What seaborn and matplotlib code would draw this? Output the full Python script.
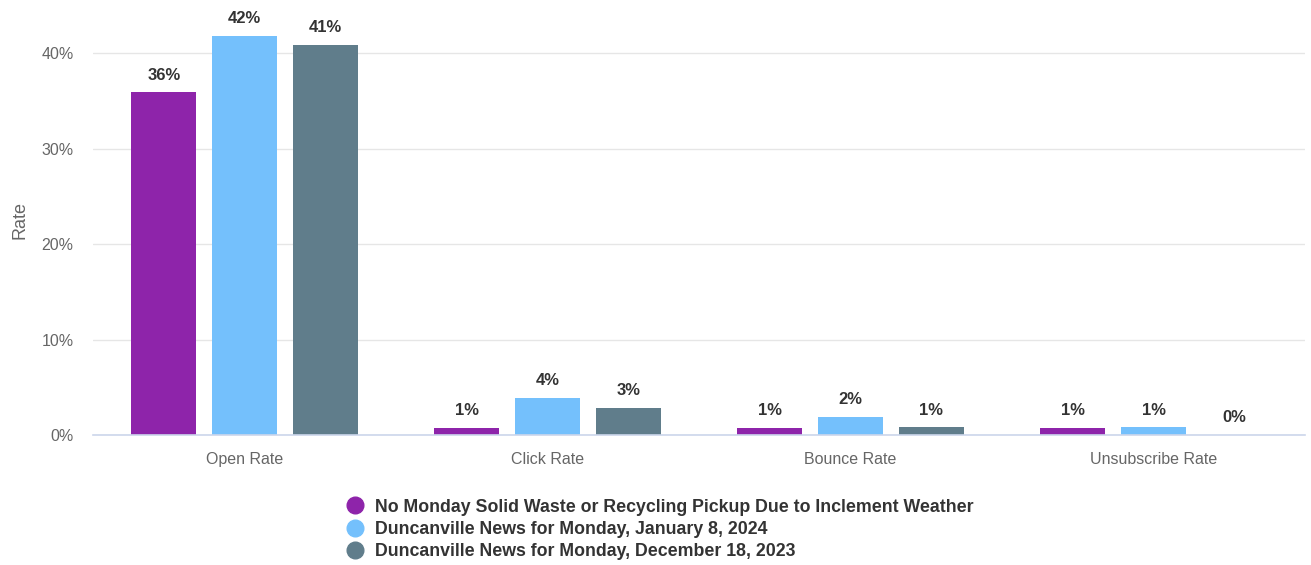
import matplotlib
matplotlib.use("Agg")
import matplotlib.pyplot as plt
from matplotlib.lines import Line2D
import seaborn as sns
import pandas as pd

categories = ["Open Rate", "Click Rate", "Bounce Rate", "Unsubscribe Rate"]
series_names = [
    "No Monday Solid Waste or Recycling Pickup Due to Inclement Weather",
    "Duncanville News for Monday, January 8, 2024",
    "Duncanville News for Monday, December 18, 2023",
]
s1 = [35.9, 0.75, 0.75, 0.75]
s2 = [41.8, 3.9, 1.9, 0.8]
s3 = [40.9, 2.85, 0.8, 0.0]
labels1 = ["36%", "1%", "1%", "1%"]
labels2 = ["42%", "4%", "2%", "1%"]
labels3 = ["41%", "3%", "1%", "0%"]
colors = ["#8E24AA", "#74C0FC", "#607D8B"]
yticks = [0, 10, 20, 30, 40]

rows = []
for name, vals in zip(series_names, [s1, s2, s3]):
    for c, v in zip(categories, vals):
        rows.append({"Category": c, "Series": name, "Rate": v})
df = pd.DataFrame(rows)

sns.set_theme(style="white")
plt.rcParams["font.family"] = ["Liberation Sans", "DejaVu Sans"]

fig = plt.figure(figsize=(13.11, 5.65), dpi=100)
ax = fig.add_axes([0.071, 0.23, 0.9245, 0.76])

sns.barplot(data=df, x="Category", y="Rate", hue="Series", order=categories,
            hue_order=series_names, palette=colors, width=0.8, gap=0.2,
            saturation=1, ax=ax, legend=False, linewidth=0, edgecolor="none")

ax.set_ylim(0, 45)
ax.set_xlim(-0.5, 3.5)
ax.set_yticks(yticks)
ax.set_yticklabels([f"{t}%" for t in yticks], color="#666666", fontsize=11.5)
ax.tick_params(axis="x", colors="#666666", labelsize=11.5, length=0, pad=12)
ax.tick_params(axis="y", length=0, pad=14)
for lab in ax.get_xticklabels():
    lab.set_color("#666666")
ax.set_xlabel("")
ax.set_ylabel("Rate", color="#666666", fontsize=13, labelpad=9)
ax.yaxis.grid(True, color="#e6e6e6", linewidth=1)
ax.set_axisbelow(True)
for sp in ["top", "right", "left"]:
    ax.spines[sp].set_visible(False)
ax.spines["bottom"].set_color("#ccd6eb")
ax.spines["bottom"].set_linewidth(1.2)

for container, labs in zip(ax.containers, [labels1, labels2, labels3]):
    ax.bar_label(container, labels=labs, padding=7, fontsize=12,
                 fontweight="bold", color="#333333")

handles = [Line2D([0], [0], marker="o", linestyle="", markersize=12,
                  markerfacecolor=c, markeredgecolor=c) for c in colors]
fig.legend(handles, series_names, loc="upper left",
           bbox_to_anchor=(0.257, 0.13), frameon=False,
           prop={"weight": "bold", "size": 12.8}, labelspacing=0.3,
           handletextpad=0.55, borderaxespad=0, handlelength=1.2,
           labelcolor="#333333")

fig.savefig("out.png", dpi=100)
